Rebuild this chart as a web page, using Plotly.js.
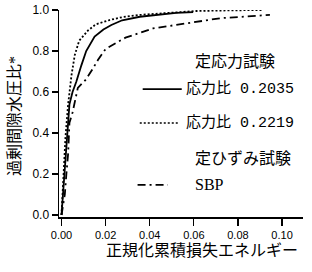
<!DOCTYPE html>
<html><head><meta charset="utf-8">
<script src="https://cdn.plot.ly/plotly-3.0.1.min.js"></script>
<style>html,body{margin:0;padding:0;background:#fff}</style>
</head><body><div id="c" style="width:312px;height:272px"></div>
<script>
// 応力比 0.2035 (solid)
const xA = [0, 0.0005, 0.0012, 0.002, 0.0028, 0.0036, 0.005, 0.0067, 0.009, 0.0112, 0.015, 0.019, 0.0226, 0.0275, 0.0355, 0.0445, 0.052, 0.0597];
const yA = [0, 0.08, 0.2, 0.33, 0.45, 0.54, 0.60, 0.65, 0.73, 0.80, 0.87, 0.905, 0.927, 0.95, 0.967, 0.979, 0.986, 0.99];
// 応力比 0.2219 (dotted)
const xB = [0, 0.0004, 0.001, 0.0018, 0.003, 0.0045, 0.006, 0.008, 0.012, 0.0155, 0.0218, 0.0275, 0.0355, 0.0445, 0.061, 0.075, 0.0914];
const yB = [0, 0.08, 0.22, 0.38, 0.54, 0.68, 0.78, 0.85, 0.90, 0.93, 0.951, 0.965, 0.976, 0.984, 0.995, 0.998, 1.0];
// SBP (dash-dot)
const xC = [0, 0.0008, 0.0015, 0.0022, 0.003, 0.0036, 0.005, 0.0074, 0.011, 0.014, 0.0165, 0.020, 0.025, 0.029, 0.0415, 0.057, 0.072, 0.0945];
const yC = [0, 0.05, 0.1, 0.2, 0.3, 0.45, 0.50, 0.62, 0.66, 0.71, 0.756, 0.81, 0.84, 0.865, 0.91, 0.935, 0.96, 0.976];

const xTicks = [0, 0.02, 0.04, 0.06, 0.08, 0.10];
const xTickText = ['0.00', '0.02', '0.04', '0.06', '0.08', '0.10'];
const yTicks = [0, 0.2, 0.4, 0.6, 0.8, 1.0];
const yTickText = ['0.0', '0.2', '0.4', '0.6', '0.8', '1.0'];

const legendHead1 = '定応力試験';
const legendHead2 = '定ひずみ試験';
const nameA = '応力比 0.2035';
const nameB = '応力比 0.2219';
const nameC = 'SBP';
const xTitle = '正規化累積損失エネルギー';
const yTitle = '過剰間隙水圧比*';

const CJK = '"Liberation Mono", "Noto Sans CJK JP"';
const CJKT = '"Liberation Serif", "Noto Sans CJK JP"';

const traces = [
  {x: xA, y: yA, mode: 'lines', line: {color: '#000', width: 1.8}, showlegend: false, hoverinfo: 'skip'},
  {x: xB, y: yB, mode: 'lines', line: {color: '#000', width: 1.8, dash: '2px,2px'}, showlegend: false, hoverinfo: 'skip'},
  {x: xC, y: yC, mode: 'lines', line: {color: '#000', width: 1.8, dash: '8px,4px,2px,4px'}, showlegend: false, hoverinfo: 'skip'}
];

const layout = {
  width: 312, height: 272,
  margin: {l: 59, r: 9, t: 10, b: 55},
  paper_bgcolor: '#fff', plot_bgcolor: '#fff',
  showlegend: false,
  xaxis: {
    range: [-0.00114, 0.1095], showgrid: false, zeroline: false,
    showline: true, linecolor: '#000', linewidth: 1.5,
    ticks: 'outside', ticklen: 7, tickwidth: 1.2, tickcolor: '#000',
    tickvals: xTicks, ticktext: xTickText,
    tickfont: {family: '"Liberation Sans", Arial', size: 11, color: '#000'}
  },
  yaxis: {
    range: [-0.0098, 1.0], showgrid: false, zeroline: false,
    showline: true, linecolor: '#000', linewidth: 1.5,
    ticks: 'outside', ticklen: 6, tickwidth: 1.2, tickcolor: '#000',
    tickvals: yTicks, ticktext: yTickText,
    tickfont: {family: '"Liberation Sans", Arial', size: 12, color: '#000'}
  },
  annotations: [
    {xref: 'paper', yref: 'paper', x: 0.548, y: 0.749, xanchor: 'left', yanchor: 'middle', showarrow: false,
     text: legendHead1, font: {family: CJKT, size: 16, color: '#000'}},
    {xref: 'paper', yref: 'paper', x: 0.511, y: 0.618, xanchor: 'left', yanchor: 'middle', showarrow: false,
     text: nameA, font: {family: CJK, size: 15, color: '#000'}},
    {xref: 'paper', yref: 'paper', x: 0.511, y: 0.454, xanchor: 'left', yanchor: 'middle', showarrow: false,
     text: nameB, font: {family: CJK, size: 15, color: '#000'}},
    {xref: 'paper', yref: 'paper', x: 0.548, y: 0.285, xanchor: 'left', yanchor: 'middle', showarrow: false,
     text: legendHead2, font: {family: CJKT, size: 16, color: '#000'}},
    {xref: 'paper', yref: 'paper', x: 0.548, y: 0.155, xanchor: 'left', yanchor: 'middle', showarrow: false,
     text: nameC, font: {family: CJKT, size: 16, color: '#000'}},
    {xref: 'paper', yref: 'paper', x: 0.585, y: -0.16, xanchor: 'center', yanchor: 'middle', showarrow: false,
     text: xTitle, font: {family: CJKT, size: 16, color: '#000'}},
    {xref: 'paper', yref: 'paper', x: -0.183, y: 0.49, xanchor: 'center', yanchor: 'middle', showarrow: false,
     textangle: -90, text: yTitle, font: {family: CJKT, size: 16, color: '#000'}}
  ],
  shapes: [
    {type: 'line', xref: 'paper', yref: 'paper', x0: 0.343, x1: 0.503, y0: 0.618, y1: 0.618, line: {color: '#000', width: 1.8}},
    {type: 'line', xref: 'paper', yref: 'paper', x0: 0.331, x1: 0.487, y0: 0.454, y1: 0.454, line: {color: '#000', width: 1.5, dash: '2px,2px'}},
    {type: 'line', xref: 'paper', yref: 'paper', x0: 0.322, x1: 0.446, y0: 0.155, y1: 0.155, line: {color: '#000', width: 1.8, dash: '8px,4px,2px,4px'}}
  ]
};

Plotly.newPlot('c', traces, layout, {staticPlot: true, displayModeBar: false});
</script></body></html>
